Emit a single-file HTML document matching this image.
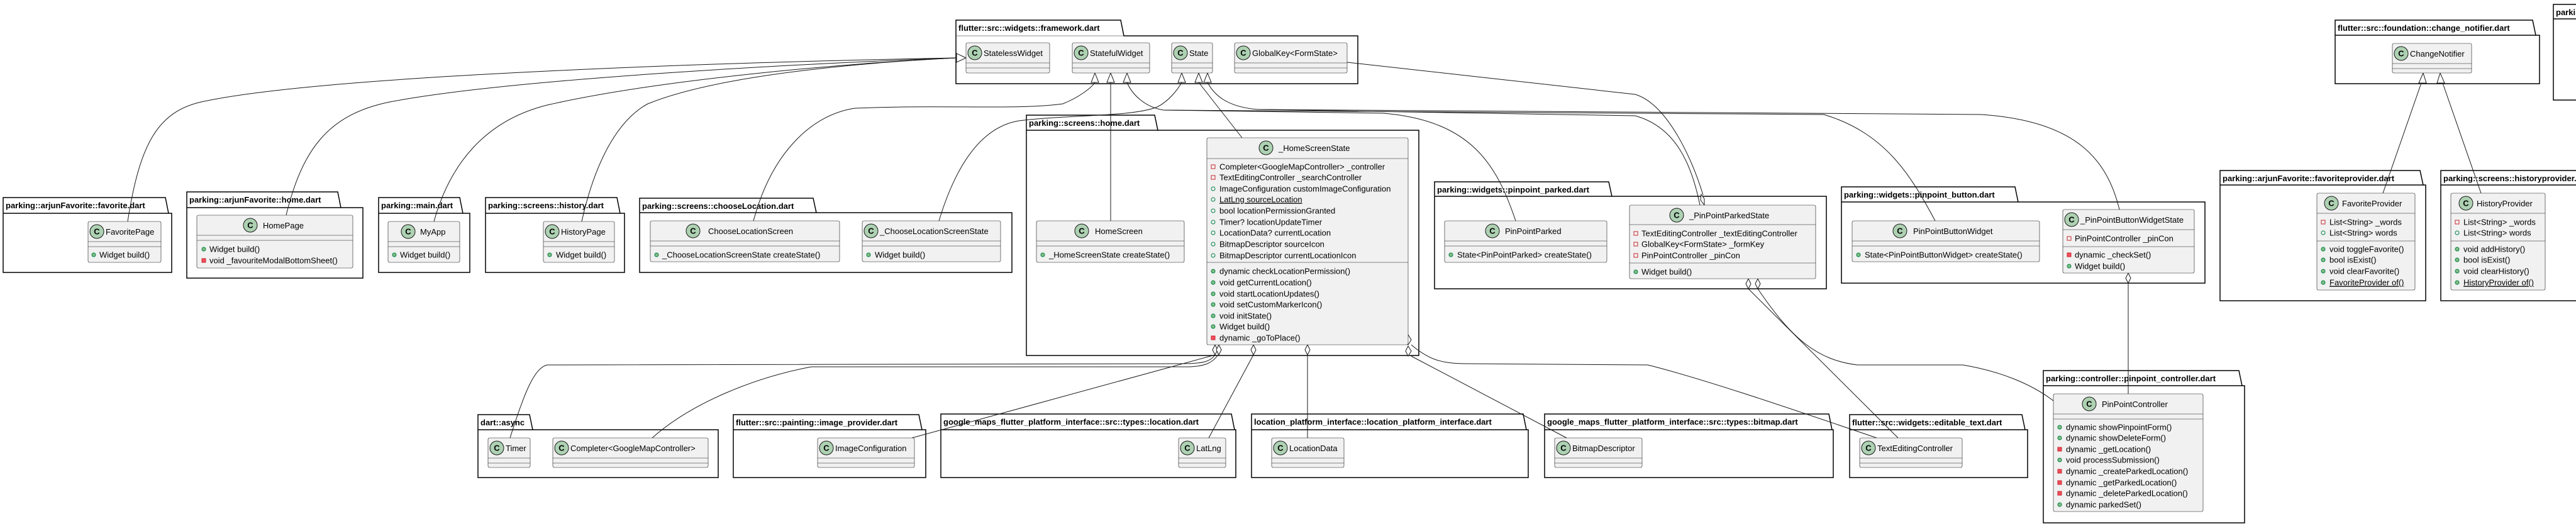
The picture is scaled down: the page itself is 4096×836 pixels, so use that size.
<!DOCTYPE html>
<html><head><meta charset="utf-8"><style>
html,body{margin:0;padding:0;background:#fff;width:4096px;height:836px;overflow:hidden}
svg{display:block}
.pk{fill:#fff;stroke:#000;stroke-width:1.5}
.pl{font-weight:bold;font-size:13px}
.cb{fill:#F1F1F1;stroke:#181818;stroke-width:0.6}
.dv{stroke:#181818;stroke-width:0.6}
.ci{fill:#ADD1B2;stroke:#181818;stroke-width:1}
.cc{font-weight:bold;font-size:13px;text-anchor:middle}
.e{fill:none;stroke:#181818;stroke-width:1}
.ah{fill:#fff;stroke:#181818;stroke-width:1}
.u{text-decoration:underline}
</style></head><body>
<svg width="4096" height="836" viewBox="0 0 4096 836" font-family="'Liberation Sans', sans-serif" font-size="13">
<defs>
<g id="pf"><rect x="-3" y="-3" width="6" height="6" fill="none" stroke="#C82930"/></g>
<g id="uf"><circle r="3" fill="none" stroke="#038048"/></g>
<g id="um"><circle r="3" fill="#84BE84" stroke="#038048"/></g>
<g id="pm"><rect x="-3" y="-3" width="6" height="6" fill="#F24D5C" stroke="#C82930"/></g>
</defs>

<!-- PACKAGES -->
<g>
<path class="pk" d="M1520,32 L1782,32 L1787,57 L2159,57 L2159,133 L1520,133 Z"/><line class="dv" x1="1520" y1="57" x2="1787" y2="57" stroke="#000" stroke-width="1.5"/><text class="pl" x="1524" y="49">flutter::src::widgets::framework.dart</text>
<path class="pk" d="M3713,32 L4027,32 L4032,56 L4038,56 L4038,133 L3713,133 Z"/><line x1="3713" y1="56" x2="4032" y2="56" stroke="#000" stroke-width="1.5"/><text class="pl" x="3717" y="49">flutter::src::foundation::change_notifier.dart</text>
<path class="pk" d="M4060,7 L4120,7 L4120,159 L4060,159 Z"/><line x1="4060" y1="30" x2="4120" y2="30" stroke="#000" stroke-width="1.5"/><text class="pl" x="4064" y="24">parking::screens</text>
<path class="pk" d="M5,314 L263,314 L268,339 L273,339 L273,433 L5,433 Z"/><line x1="5" y1="339" x2="268" y2="339" stroke="#000" stroke-width="1.5"/><text class="pl" x="9" y="331">parking::arjunFavorite::favorite.dart</text>
<path class="pk" d="M297,305 L537,305 L542,330 L577,330 L577,442 L297,442 Z"/><line x1="297" y1="330" x2="542" y2="330" stroke="#000" stroke-width="1.5"/><text class="pl" x="301" y="322">parking::arjunFavorite::home.dart</text>
<path class="pk" d="M602,314 L731,314 L736,339 L747,339 L747,433 L602,433 Z"/><line x1="602" y1="339" x2="736" y2="339" stroke="#000" stroke-width="1.5"/><text class="pl" x="606" y="331">parking::main.dart</text>
<path class="pk" d="M772,314 L981,314 L986,339 L993,339 L993,433 L772,433 Z"/><line x1="772" y1="339" x2="986" y2="339" stroke="#000" stroke-width="1.5"/><text class="pl" x="776" y="331">parking::screens::history.dart</text>
<path class="pk" d="M1017,315 L1293,315 L1298,338 L1609,338 L1609,433 L1017,433 Z"/><line x1="1017" y1="338" x2="1298" y2="338" stroke="#000" stroke-width="1.5"/><text class="pl" x="1021" y="332">parking::screens::chooseLocation.dart</text>
<path class="pk" d="M1632,183 L1836,183 L1841,207 L2256,207 L2256,565 L1632,565 Z"/><line x1="1632" y1="207" x2="1841" y2="207" stroke="#000" stroke-width="1.5"/><text class="pl" x="1636" y="200">parking::screens::home.dart</text>
<path class="pk" d="M2281,289 L2558,289 L2563,312 L2904,312 L2904,459 L2281,459 Z"/><line x1="2281" y1="312" x2="2563" y2="312" stroke="#000" stroke-width="1.5"/><text class="pl" x="2285" y="306">parking::widgets::pinpoint_parked.dart</text>
<path class="pk" d="M2928,297 L3204,297 L3209,321 L3506,321 L3506,450 L2928,450 Z"/><line x1="2928" y1="321" x2="3209" y2="321" stroke="#000" stroke-width="1.5"/><text class="pl" x="2932" y="314">parking::widgets::pinpoint_button.dart</text>
<path class="pk" d="M3530,271 L3848,271 L3853,294 L3857,294 L3857,478 L3530,478 Z"/><line x1="3530" y1="294" x2="3853" y2="294" stroke="#000" stroke-width="1.5"/><text class="pl" x="3534" y="288">parking::arjunFavorite::favoriteprovider.dart</text>
<path class="pk" d="M3881,271 L4150,271 L4155,294 L4160,294 L4160,478 L3881,478 Z"/><line x1="3881" y1="294" x2="4155" y2="294" stroke="#000" stroke-width="1.5"/><text class="pl" x="3885" y="288">parking::screens::historyprovider.dart</text>
<path class="pk" d="M760,659 L842,659 L847,683 L1142,683 L1142,759 L760,759 Z"/><line x1="760" y1="683" x2="847" y2="683" stroke="#000" stroke-width="1.5"/><text class="pl" x="764" y="676">dart::async</text>
<path class="pk" d="M1166,659 L1461,659 L1466,683 L1472,683 L1472,759 L1166,759 Z"/><line x1="1166" y1="683" x2="1466" y2="683" stroke="#000" stroke-width="1.5"/><text class="pl" x="1170" y="676">flutter::src::painting::image_provider.dart</text>
<path class="pk" d="M1496,658 L1958,658 L1963,683 L1965,683 L1965,759 L1496,759 Z"/><line x1="1496" y1="683" x2="1963" y2="683" stroke="#000" stroke-width="1.5"/><text class="pl" x="1500" y="675">google_maps_flutter_platform_interface::src::types::location.dart</text>
<path class="pk" d="M1990,658 L2422,658 L2427,683 L2430,683 L2430,759 L1990,759 Z"/><line x1="1990" y1="683" x2="2427" y2="683" stroke="#000" stroke-width="1.5"/><text class="pl" x="1994" y="675">location_platform_interface::location_platform_interface.dart</text>
<path class="pk" d="M2456,658 L2908,658 L2913,683 L2915,683 L2915,759 L2456,759 Z"/><line x1="2456" y1="683" x2="2913" y2="683" stroke="#000" stroke-width="1.5"/><text class="pl" x="2460" y="675">google_maps_flutter_platform_interface::src::types::bitmap.dart</text>
<path class="pk" d="M2941,659 L3215,659 L3220,683 L3224,683 L3224,759 L2941,759 Z"/><line x1="2941" y1="683" x2="3220" y2="683" stroke="#000" stroke-width="1.5"/><text class="pl" x="2945" y="676">flutter::src::widgets::editable_text.dart</text>
<path class="pk" d="M3249,589 L3560,589 L3565,613 L3569,613 L3569,831 L3249,831 Z"/><line x1="3249" y1="613" x2="3565" y2="613" stroke="#000" stroke-width="1.5"/><text class="pl" x="3253" y="606">parking::controller::pinpoint_controller.dart</text>
</g>

<!-- EDGES -->
<g>
<path class="e" d="M203,352 C222,230 250,178 320,162 C520,118 1200,98 1521,92"/>
<path class="e" d="M455,342 C480,240 520,182 620,162 C820,124 1300,100 1521,92"/>
<path class="e" d="M690,352 C715,262 770,192 870,167 C1050,126 1350,100 1521,92"/>
<path class="e" d="M925,352 C945,262 980,192 1030,165 C1150,116 1400,98 1521,92"/>
<polygon class="ah" points="1536,92 1521,85 1521,99"/>

<path class="e" d="M1198,351 C1230,232 1300,180 1360,172 C1500,166 1620,175 1690,165 C1715,155 1735,140 1741,131"/>
<path class="e" d="M1766,351 L1766,131"/>
<path class="e" d="M2410,351 C2380,262 2340,192 2200,180 L1850,175 C1820,170 1800,150 1792,131"/>
<path class="e" d="M3077,351 C3040,282 3000,212 2900,182 L1850,175"/>
<polygon class="ah" points="1741,116 1735,131 1747,131"/>
<polygon class="ah" points="1766,116 1760,131 1772,131"/>
<polygon class="ah" points="1792,116 1786,131 1798,131"/>

<path class="e" d="M1493,351 C1520,262 1560,202 1620,192 C1700,182 1800,186 1840,170 C1860,160 1874,140 1879,131"/>
<path class="e" d="M1975,219 L1906,131"/>
<path class="e" d="M3370,333 C3350,252 3300,192 3150,182 L2000,174 C1950,170 1930,150 1920,131"/>
<path class="e" d="M2703,326 C2690,262 2665,202 2600,184 L2000,174"/>
<polygon class="ah" points="1879,116 1873,131 1885,131"/>
<polygon class="ah" points="1906,116 1900,131 1912,131"/>
<polygon class="ah" points="1920,116 1914,131 1926,131"/>

<path class="e" d="M2142,99 L2600,150 C2650,165 2690,250 2708,310"/>
<polygon class="ah" points="2710,326 2704,318 2705,309 2710,316"/>

<path class="e" d="M2780,459 L3018,696"/>
<path class="e" d="M2795,459 C2850,540 2890,572 2953,580 L3121,580 C3180,590 3230,610 3265,637"/>
<polygon class="ah" points="2780,443 2784,451 2780,459 2776,451"/>
<polygon class="ah" points="2795,443 2799,451 2795,459 2791,451"/>

<path class="e" d="M3384,450 L3384,626"/>
<polygon class="ah" points="3384,434 3388,442 3384,450 3380,442"/>

<path class="e" d="M1932,564 C1925,574 1915,578 1880,578 L870,580 C850,585 835,620 811,696"/>
<path class="e" d="M1937,564 C1928,576 1918,582 1890,583 L1290,583 C1200,600 1100,640 1037,696"/>
<path class="e" d="M1932,564 L1450,696"/>
<path class="e" d="M1993,564 L1922,696"/>
<path class="e" d="M2079,564 L2079,696"/>
<path class="e" d="M2244,566 L2491,696"/>
<path class="e" d="M2244,548 C2270,570 2290,578 2330,578 L2620,580 C2700,600 2820,640 2984,696"/>
<polygon class="ah" points="1932,548 1936,556 1932,564 1928,556"/>
<polygon class="ah" points="1938,548 1942,556 1938,564 1934,556"/>
<polygon class="ah" points="1993,548 1997,556 1993,564 1989,556"/>
<polygon class="ah" points="2079,548 2083,556 2079,564 2075,556"/>
<polygon class="ah" points="2239,532 2244,540 2239,548 2235,540"/>
<polygon class="ah" points="2239,550 2244,558 2239,566 2235,558"/>

<path class="e" d="M3850,132 L3789,307"/>
<path class="e" d="M3884,132 L3945,307"/>
<polygon class="ah" points="3853,116 3846,132 3858,132"/>
<polygon class="ah" points="3880,116 3875,132 3887,132"/>
</g>

<!-- CLASSES -->
<g>
<!-- StatelessWidget -->
<rect class="cb" x="1536" y="68" width="133" height="48" rx="2.5"/><line class="dv" x1="1536" y1="100" x2="1669" y2="100"/><line class="dv" x1="1536" y1="108" x2="1669" y2="108"/>
<circle class="ci" cx="1550" cy="84" r="11"/><text class="cc" x="1550" y="88.5">C</text><text x="1564" y="89">StatelessWidget</text>
<!-- StatefulWidget -->
<rect class="cb" x="1705" y="68" width="123" height="48" rx="2.5"/><line class="dv" x1="1705" y1="100" x2="1828" y2="100"/><line class="dv" x1="1705" y1="108" x2="1828" y2="108"/>
<circle class="ci" cx="1719" cy="84" r="11"/><text class="cc" x="1719" y="88.5">C</text><text x="1733" y="89">StatefulWidget</text>
<!-- State -->
<rect class="cb" x="1863" y="68" width="65" height="48" rx="2.5"/><line class="dv" x1="1863" y1="100" x2="1928" y2="100"/><line class="dv" x1="1863" y1="108" x2="1928" y2="108"/>
<circle class="ci" cx="1877" cy="84" r="11"/><text class="cc" x="1877" y="88.5">C</text><text x="1891" y="89">State</text>
<!-- GlobalKey -->
<rect class="cb" x="1963" y="68" width="179" height="48" rx="2.5"/><line class="dv" x1="1963" y1="100" x2="2142" y2="100"/><line class="dv" x1="1963" y1="108" x2="2142" y2="108"/>
<circle class="ci" cx="1977" cy="84" r="11"/><text class="cc" x="1977" y="88.5">C</text><text x="1991" y="89">GlobalKey&lt;FormState&gt;</text>
<!-- ChangeNotifier -->
<rect class="cb" x="3804" y="69" width="126" height="47" rx="2.5"/><line class="dv" x1="3804" y1="101" x2="3930" y2="101"/><line class="dv" x1="3804" y1="109" x2="3930" y2="109"/>
<circle class="ci" cx="3818" cy="85" r="11"/><text class="cc" x="3818" y="89.5">C</text><text x="3832" y="90">ChangeNotifier</text>

<!-- FavoritePage -->
<rect class="cb" x="140" y="352" width="116" height="65" rx="2.5"/><line class="dv" x1="140" y1="384" x2="256" y2="384"/><line class="dv" x1="140" y1="392" x2="256" y2="392"/>
<circle class="ci" cx="154" cy="368" r="11"/><text class="cc" x="154" y="372.5">C</text><text x="168" y="373">FavoritePage</text>
<use href="#um" x="149" y="405"/><text x="158" y="409.5">Widget build()</text>
<!-- HomePage -->
<rect class="cb" x="313" y="342" width="248" height="84" rx="2.5"/><line class="dv" x1="313" y1="374" x2="561" y2="374"/><line class="dv" x1="313" y1="382" x2="561" y2="382"/>
<circle class="ci" cx="398" cy="358" r="11"/><text class="cc" x="398" y="362.5">C</text><text x="418" y="363">HomePage</text>
<use href="#um" x="324" y="396"/><text x="333" y="400.5">Widget build()</text>
<use href="#pm" x="324" y="414"/><text x="333" y="418.5">void _favouriteModalBottomSheet()</text>
<!-- MyApp -->
<rect class="cb" x="617" y="352" width="114" height="65" rx="2.5"/><line class="dv" x1="617" y1="384" x2="731" y2="384"/><line class="dv" x1="617" y1="392" x2="731" y2="392"/>
<circle class="ci" cx="649" cy="368" r="11"/><text class="cc" x="649" y="372.5">C</text><text x="668" y="373">MyApp</text>
<use href="#um" x="627" y="405"/><text x="636" y="409.5">Widget build()</text>
<!-- HistoryPage -->
<rect class="cb" x="864" y="352" width="113" height="65" rx="2.5"/><line class="dv" x1="864" y1="384" x2="977" y2="384"/><line class="dv" x1="864" y1="392" x2="977" y2="392"/>
<circle class="ci" cx="878" cy="368" r="11"/><text class="cc" x="878" y="372.5">C</text><text x="892" y="373">HistoryPage</text>
<use href="#um" x="874" y="405"/><text x="884" y="409.5">Widget build()</text>
<!-- ChooseLocationScreen -->
<rect class="cb" x="1034" y="351" width="301" height="65" rx="2.5"/><line class="dv" x1="1034" y1="383" x2="1335" y2="383"/><line class="dv" x1="1034" y1="391" x2="1335" y2="391"/>
<circle class="ci" cx="1102" cy="367" r="11"/><text class="cc" x="1102" y="371.5">C</text><text x="1126" y="372">ChooseLocationScreen</text>
<use href="#um" x="1044" y="405"/><text x="1053" y="409.5">_ChooseLocationScreenState createState()</text>
<!-- _ChooseLocationScreenState -->
<rect class="cb" x="1371" y="351" width="220" height="65" rx="2.5"/><line class="dv" x1="1371" y1="383" x2="1591" y2="383"/><line class="dv" x1="1371" y1="391" x2="1591" y2="391"/>
<circle class="ci" cx="1385" cy="367" r="11"/><text class="cc" x="1385" y="371.5">C</text><text x="1399" y="372">_ChooseLocationScreenState</text>
<use href="#um" x="1381" y="405"/><text x="1391" y="409.5">Widget build()</text>
<!-- HomeScreen -->
<rect class="cb" x="1648" y="351" width="235" height="66" rx="2.5"/><line class="dv" x1="1648" y1="383" x2="1883" y2="383"/><line class="dv" x1="1648" y1="391" x2="1883" y2="391"/>
<circle class="ci" cx="1720" cy="367" r="11"/><text class="cc" x="1720" y="371.5">C</text><text x="1741" y="372">HomeScreen</text>
<use href="#um" x="1658" y="405"/><text x="1668" y="409.5">_HomeScreenState createState()</text>
<!-- _HomeScreenState -->
<rect class="cb" x="1919" y="219" width="320" height="329" rx="2.5"/><line class="dv" x1="1919" y1="252" x2="2239" y2="252"/><line class="dv" x1="1919" y1="417" x2="2239" y2="417"/>
<circle class="ci" cx="2013" cy="235" r="11"/><text class="cc" x="2013" y="239.5">C</text><text x="2033" y="240">_HomeScreenState</text>
<use href="#pf" x="1929" y="265"/><text x="1939" y="269.5">Completer&lt;GoogleMapController&gt; _controller</text>
<use href="#pf" x="1929" y="282"/><text x="1939" y="286.5">TextEditingController _searchController</text>
<use href="#uf" x="1929" y="300"/><text x="1939" y="304.5">ImageConfiguration customImageConfiguration</text>
<use href="#uf" x="1929" y="317"/><text class="u" x="1939" y="321.5">LatLng sourceLocation</text>
<use href="#uf" x="1929" y="335"/><text x="1939" y="339.5">bool locationPermissionGranted</text>
<use href="#uf" x="1929" y="353"/><text x="1939" y="357.5">Timer? locationUpdateTimer</text>
<use href="#uf" x="1929" y="370"/><text x="1939" y="374.5">LocationData? currentLocation</text>
<use href="#uf" x="1929" y="388"/><text x="1939" y="392.5">BitmapDescriptor sourceIcon</text>
<use href="#uf" x="1929" y="406"/><text x="1939" y="410.5">BitmapDescriptor currentLocationIcon</text>
<use href="#um" x="1929" y="431"/><text x="1939" y="435.5">dynamic checkLocationPermission()</text>
<use href="#um" x="1929" y="449"/><text x="1939" y="453.5">void getCurrentLocation()</text>
<use href="#um" x="1929" y="467"/><text x="1939" y="471.5">void startLocationUpdates()</text>
<use href="#um" x="1929" y="484"/><text x="1939" y="488.5">void setCustomMarkerIcon()</text>
<use href="#um" x="1929" y="502"/><text x="1939" y="506.5">void initState()</text>
<use href="#um" x="1929" y="519"/><text x="1939" y="523.5">Widget build()</text>
<use href="#pm" x="1929" y="537"/><text x="1939" y="541.5">dynamic _goToPlace()</text>
<!-- PinPointParked -->
<rect class="cb" x="2297" y="351" width="258" height="66" rx="2.5"/><line class="dv" x1="2297" y1="383" x2="2555" y2="383"/><line class="dv" x1="2297" y1="391" x2="2555" y2="391"/>
<circle class="ci" cx="2373" cy="367" r="11"/><text class="cc" x="2373" y="371.5">C</text><text x="2393" y="372">PinPointParked</text>
<use href="#um" x="2307" y="405"/><text x="2317" y="409.5">State&lt;PinPointParked&gt; createState()</text>
<!-- _PinPointParkedState -->
<rect class="cb" x="2591" y="326" width="296" height="117" rx="2.5"/><line class="dv" x1="2591" y1="357" x2="2887" y2="357"/><line class="dv" x1="2591" y1="418" x2="2887" y2="418"/>
<circle class="ci" cx="2666" cy="342" r="11"/><text class="cc" x="2666" y="346.5">C</text><text x="2686" y="347">_PinPointParkedState</text>
<use href="#pf" x="2601" y="371"/><text x="2610" y="375.5">TextEditingController _textEditingController</text>
<use href="#pf" x="2601" y="388"/><text x="2610" y="392.5">GlobalKey&lt;FormState&gt; _formKey</text>
<use href="#pf" x="2601" y="406"/><text x="2610" y="410.5">PinPointController _pinCon</text>
<use href="#um" x="2601" y="432"/><text x="2610" y="436.5">Widget build()</text>
<!-- PinPointButtonWidget -->
<rect class="cb" x="2945" y="351" width="298" height="65" rx="2.5"/><line class="dv" x1="2945" y1="383" x2="3243" y2="383"/><line class="dv" x1="2945" y1="391" x2="3243" y2="391"/>
<circle class="ci" cx="3021" cy="367" r="11"/><text class="cc" x="3021" y="371.5">C</text><text x="3042" y="372">PinPointButtonWidget</text>
<use href="#um" x="2955" y="405"/><text x="2965" y="409.5">State&lt;PinPointButtonWidget&gt; createState()</text>
<!-- _PinPointButtonWidgetState -->
<rect class="cb" x="3280" y="333" width="209" height="101" rx="2.5"/><line class="dv" x1="3280" y1="365" x2="3489" y2="365"/><line class="dv" x1="3280" y1="392" x2="3489" y2="392"/>
<circle class="ci" cx="3294" cy="349" r="11"/><text class="cc" x="3294" y="353.5">C</text><text x="3308" y="354">_PinPointButtonWidgetState</text>
<use href="#pf" x="3290" y="379"/><text x="3299" y="383.5">PinPointController _pinCon</text>
<use href="#pm" x="3290" y="405"/><text x="3299" y="409.5">dynamic _checkSet()</text>
<use href="#um" x="3290" y="423"/><text x="3299" y="427.5">Widget build()</text>
<!-- FavoriteProvider -->
<rect class="cb" x="3684" y="307" width="156" height="154" rx="2.5"/><line class="dv" x1="3684" y1="339" x2="3840" y2="339"/><line class="dv" x1="3684" y1="383" x2="3840" y2="383"/>
<circle class="ci" cx="3707" cy="323" r="11"/><text class="cc" x="3707" y="327.5">C</text><text x="3724" y="328">FavoriteProvider</text>
<use href="#pf" x="3694" y="353"/><text x="3704" y="357.5">List&lt;String&gt; _words</text>
<use href="#uf" x="3694" y="370"/><text x="3704" y="374.5">List&lt;String&gt; words</text>
<use href="#um" x="3694" y="396"/><text x="3704" y="400.5">void toggleFavorite()</text>
<use href="#um" x="3694" y="413"/><text x="3704" y="417.5">bool isExist()</text>
<use href="#um" x="3694" y="431"/><text x="3704" y="435.5">void clearFavorite()</text>
<use href="#um" x="3694" y="449"/><text class="u" x="3704" y="453.5">FavoriteProvider of()</text>
<!-- HistoryProvider -->
<rect class="cb" x="3897" y="307" width="150" height="154" rx="2.5"/><line class="dv" x1="3897" y1="339" x2="4047" y2="339"/><line class="dv" x1="3897" y1="383" x2="4047" y2="383"/>
<circle class="ci" cx="3921" cy="323" r="11"/><text class="cc" x="3921" y="327.5">C</text><text x="3938" y="328">HistoryProvider</text>
<use href="#pf" x="3907" y="353"/><text x="3917" y="357.5">List&lt;String&gt; _words</text>
<use href="#uf" x="3907" y="370"/><text x="3917" y="374.5">List&lt;String&gt; words</text>
<use href="#um" x="3907" y="396"/><text x="3917" y="400.5">void addHistory()</text>
<use href="#um" x="3907" y="413"/><text x="3917" y="417.5">bool isExist()</text>
<use href="#um" x="3907" y="431"/><text x="3917" y="435.5">void clearHistory()</text>
<use href="#um" x="3907" y="449"/><text class="u" x="3917" y="453.5">HistoryProvider of()</text>

<!-- bottom compact classes -->
<rect class="cb" x="776" y="696" width="67" height="47" rx="2.5"/><line class="dv" x1="776" y1="728" x2="843" y2="728"/><line class="dv" x1="776" y1="736" x2="843" y2="736"/>
<circle class="ci" cx="790" cy="712" r="11"/><text class="cc" x="790" y="716.5">C</text><text x="804" y="717">Timer</text>
<rect class="cb" x="879" y="696" width="247" height="47" rx="2.5"/><line class="dv" x1="879" y1="728" x2="1126" y2="728"/><line class="dv" x1="879" y1="736" x2="1126" y2="736"/>
<circle class="ci" cx="893" cy="712" r="11"/><text class="cc" x="893" y="716.5">C</text><text x="907" y="717">Completer&lt;GoogleMapController&gt;</text>
<rect class="cb" x="1300" y="696" width="154" height="47" rx="2.5"/><line class="dv" x1="1300" y1="728" x2="1454" y2="728"/><line class="dv" x1="1300" y1="736" x2="1454" y2="736"/>
<circle class="ci" cx="1314" cy="712" r="11"/><text class="cc" x="1314" y="716.5">C</text><text x="1328" y="717">ImageConfiguration</text>
<rect class="cb" x="1874" y="696" width="75" height="47" rx="2.5"/><line class="dv" x1="1874" y1="728" x2="1949" y2="728"/><line class="dv" x1="1874" y1="736" x2="1949" y2="736"/>
<circle class="ci" cx="1888" cy="712" r="11"/><text class="cc" x="1888" y="716.5">C</text><text x="1902" y="717">LatLng</text>
<rect class="cb" x="2022" y="696" width="115" height="47" rx="2.5"/><line class="dv" x1="2022" y1="728" x2="2137" y2="728"/><line class="dv" x1="2022" y1="736" x2="2137" y2="736"/>
<circle class="ci" cx="2036" cy="712" r="11"/><text class="cc" x="2036" y="716.5">C</text><text x="2050" y="717">LocationData</text>
<rect class="cb" x="2472" y="696" width="139" height="47" rx="2.5"/><line class="dv" x1="2472" y1="728" x2="2611" y2="728"/><line class="dv" x1="2472" y1="736" x2="2611" y2="736"/>
<circle class="ci" cx="2486" cy="712" r="11"/><text class="cc" x="2486" y="716.5">C</text><text x="2500" y="717">BitmapDescriptor</text>
<rect class="cb" x="2957" y="696" width="163" height="47" rx="2.5"/><line class="dv" x1="2957" y1="728" x2="3120" y2="728"/><line class="dv" x1="2957" y1="736" x2="3120" y2="736"/>
<circle class="ci" cx="2971" cy="712" r="11"/><text class="cc" x="2971" y="716.5">C</text><text x="2985" y="717">TextEditingController</text>

<!-- PinPointController -->
<rect class="cb" x="3265" y="626" width="238" height="187" rx="2.5"/><line class="dv" x1="3265" y1="658" x2="3503" y2="658"/><line class="dv" x1="3265" y1="666" x2="3503" y2="666"/>
<circle class="ci" cx="3322" cy="642" r="11"/><text class="cc" x="3322" y="646.5">C</text><text x="3342" y="647">PinPointController</text>
<use href="#um" x="3275" y="679"/><text x="3285" y="683.5">dynamic showPinpointForm()</text>
<use href="#um" x="3275" y="696"/><text x="3285" y="700.5">dynamic showDeleteForm()</text>
<use href="#pm" x="3275" y="714"/><text x="3285" y="718.5">dynamic _getLocation()</text>
<use href="#um" x="3275" y="731"/><text x="3285" y="735.5">void processSubmission()</text>
<use href="#pm" x="3275" y="749"/><text x="3285" y="753.5">dynamic _createParkedLocation()</text>
<use href="#pm" x="3275" y="767"/><text x="3285" y="771.5">dynamic _getParkedLocation()</text>
<use href="#pm" x="3275" y="784"/><text x="3285" y="788.5">dynamic _deleteParkedLocation()</text>
<use href="#um" x="3275" y="802"/><text x="3285" y="806.5">dynamic parkedSet()</text>
</g>
</svg>
</body></html>
